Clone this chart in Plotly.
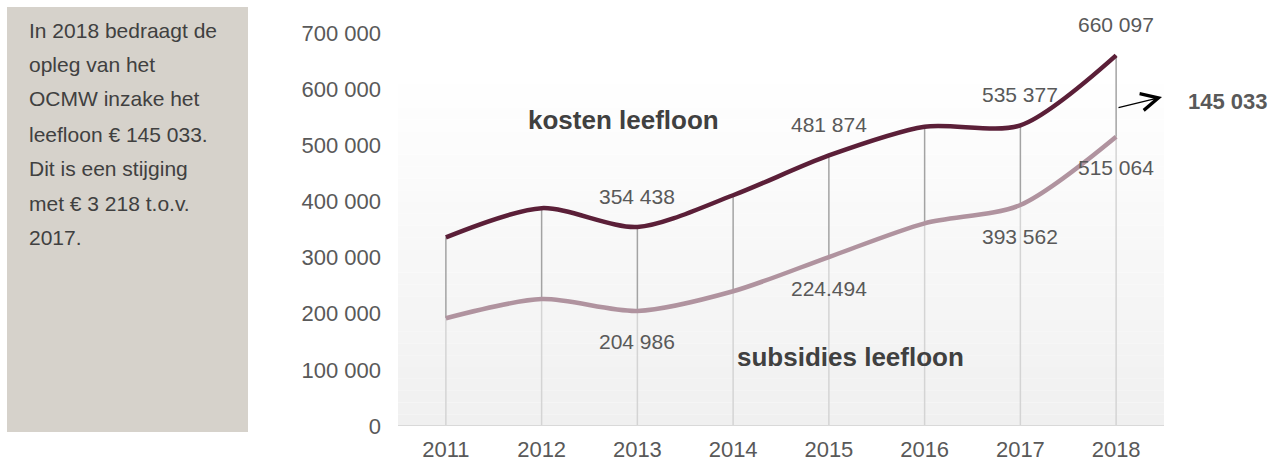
import plotly.graph_objects as go

years = [2011, 2012, 2013, 2014, 2015, 2016, 2017, 2018]
kosten = [336000, 388000, 354438, 411000, 481874, 533000, 535377, 660097]
subsidies = [192000, 226000, 204986, 240000, 301000, 361000, 393562, 515064]
kosten_labels = ["", "", "354 438", "", "481 874", "", "535 377", "660 097"]
subsidies_labels = ["", "", "204 986", "", "224.494", "", "393 562", "515 064"]
y_ticks = [0, 100000, 200000, 300000, 400000, 500000, 600000, 700000]
note_lines = ["In 2018 bedraagt de", "opleg van het", "OCMW inzake het",
              "leefloon € 145 033.", "Dit is een stijging", "met € 3 218 t.o.v.", "2017."]
opleg_label = "145 033"

FONT = "Liberation Sans, Arial, sans-serif"
KOSTEN_C = "#5b1f38"
SUBS_C = "#b0939f"
TXT = "#595959"

# plot area geometry (pixels)
L, R, T, B = 398, 1164, 33, 426
PW, PH = R - L, B - T

fig = go.Figure()

# drop lines (axis -> subsidies) light gray
dx, dy = [], []
for x, s in zip(years, subsidies):
    dx += [x, x, None]
    dy += [0, s, None]
fig.add_trace(go.Scatter(x=dx, y=dy, mode="lines", line=dict(color="#d4d4d4", width=1.5),
                         hoverinfo="skip", showlegend=False))
# high-low lines (subsidies -> kosten) darker gray
hx, hy = [], []
for x, s, k in zip(years, subsidies, kosten):
    hx += [x, x, None]
    hy += [s, k, None]
fig.add_trace(go.Scatter(x=hx, y=hy, mode="lines", line=dict(color="#a3a3a3", width=1.5),
                         hoverinfo="skip", showlegend=False))

fig.add_trace(go.Scatter(x=years, y=subsidies, mode="lines",
                         line=dict(color=SUBS_C, width=4.5, shape="spline", smoothing=0.8),
                         showlegend=False))
fig.add_trace(go.Scatter(x=years, y=kosten, mode="lines",
                         line=dict(color=KOSTEN_C, width=4.5, shape="spline", smoothing=0.8),
                         showlegend=False))

annotations = []
for x, v, t in zip(years, kosten, kosten_labels):
    if t:
        annotations.append(dict(x=x, y=v, text=t, showarrow=False, yshift=31,
                                font=dict(size=21, color=TXT, family=FONT)))
for x, v, t in zip(years, subsidies, subsidies_labels):
    if t:
        annotations.append(dict(x=x, y=v, text=t, showarrow=False, yshift=-31,
                                font=dict(size=21, color=TXT, family=FONT)))

annotations.append(dict(x=2012.86, y=545000, text="<b>kosten leefloon</b>", showarrow=False,
                        font=dict(size=26, color="#404040", family=FONT)))
annotations.append(dict(x=2015.23, y=123000, text="<b>subsidies leefloon</b>", showarrow=False,
                        font=dict(size=26, color="#404040", family=FONT)))

# arrow towards the opleg value
annotations.append(dict(x=(1162 - L) / PW, y=(B - 97) / PH, xref="paper", yref="paper",
                        ax=-45, ay=11, text="", showarrow=True, arrowhead=5, arrowsize=2.6,
                        arrowwidth=1.3, arrowcolor="#000000"))
annotations.append(dict(x=(1186 - L) / PW, y=(B - 102) / PH, xref="paper", yref="paper",
                        text="<b>" + opleg_label + "</b>", showarrow=False,
                        xanchor="left", yanchor="middle",
                        font=dict(size=22, color=TXT, family=FONT)))

# left text box
note_y = [30, 65, 99, 134, 168, 203, 237]
for line, py in zip(note_lines, note_y):
    annotations.append(dict(x=(27 - L) / PW, y=(B - py) / PH, xref="paper", yref="paper",
                            text=line, showarrow=False, xanchor="left", yanchor="middle",
                            font=dict(size=21, color="#404040", family=FONT)))

shapes = [dict(type="rect", xref="paper", yref="paper", x0=(7 - L) / PW, x1=(248 - L) / PW,
               y0=(B - 432) / PH, y1=(B - 7) / PH, fillcolor="#d6d2cb",
               line=dict(width=0), layer="below")]
# gradient background of plot area
n = 30
top = 630000
for i in range(n):
    y0 = top * i / n
    y1 = top * (i + 1) / n
    frac = i / (n - 1)
    g = int(round(240 + (255 - 240) * frac))
    shapes.append(dict(type="rect", xref="x domain", yref="y", x0=0, x1=1, y0=y0, y1=y1,
                       fillcolor=f"rgb({g},{g},{g})", line=dict(width=0), layer="below"))
shapes.append(dict(type="line", xref="x domain", yref="y", x0=0, x1=1, y0=0, y1=0,
                   line=dict(color="#d9d9d9", width=2), layer="above"))

fig.update_layout(
    width=1272, height=463,
    margin=dict(l=L, r=1272 - R, t=T, b=463 - B, autoexpand=False),
    paper_bgcolor="white", plot_bgcolor="white",
    separators=". ",
    font=dict(family=FONT, color=TXT),
    xaxis=dict(range=[2010.5, 2018.5], tickvals=years, ticktext=[str(y) for y in years],
               showgrid=False, zeroline=False, showline=False, ticks="", automargin=False,
               tickfont=dict(size=22, color=TXT, family=FONT), ticklabelstandoff=8),
    yaxis=dict(range=[0, 700000], tickvals=y_ticks, tickformat=",d", showgrid=False,
               zeroline=False, showline=False, ticks="", automargin=False,
               tickfont=dict(size=22, color=TXT, family=FONT), ticklabelstandoff=16),
    annotations=annotations,
    shapes=shapes,
    showlegend=False,
)

fig.write_html("out.html", config={"displayModeBar": False},
               post_script="document.body.style.margin='0';")
